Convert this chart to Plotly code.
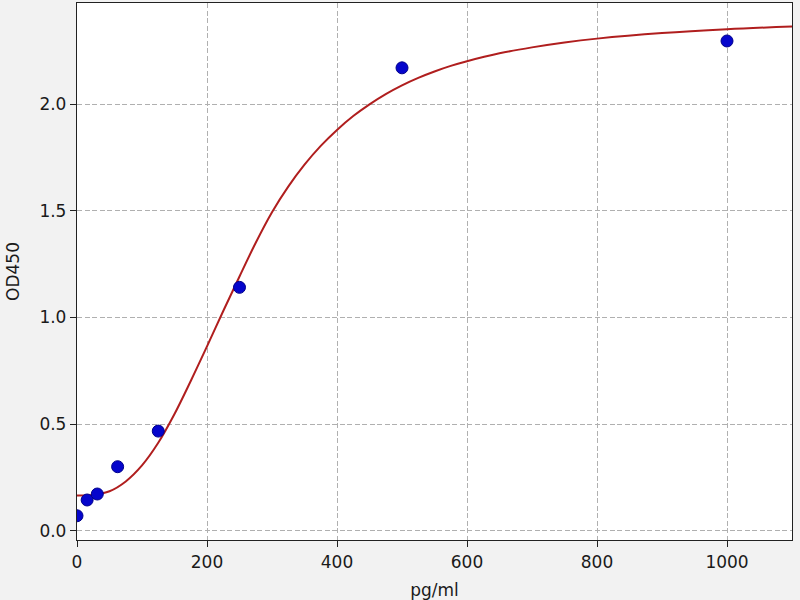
import plotly.graph_objects as go

# Measured standards
conc = [0, 15.6, 31.25, 62.5, 125, 250, 500, 1000]
od = [0.070, 0.144, 0.172, 0.300, 0.467, 1.141, 2.170, 2.296]

# Fitted curve
curve_x = [0, 25, 50, 75, 100, 125, 150, 175, 200, 225, 250, 275, 300, 325, 350,
           375, 400, 425, 450, 475, 500, 525, 550, 575, 600, 650, 700, 750, 800,
           900, 1000, 1100]
curve_y = [0.165, 0.168, 0.185, 0.231, 0.306, 0.412, 0.547, 0.702, 0.864, 1.030,
           1.192, 1.350, 1.493, 1.613, 1.716, 1.804, 1.879, 1.944, 1.999, 2.047,
           2.088, 2.123, 2.153, 2.179, 2.201, 2.238, 2.266, 2.289, 2.307,
           2.333, 2.351, 2.364]

x_ticks = [0, 200, 400, 600, 800, 1000]
y_ticks = [0.0, 0.5, 1.0, 1.5, 2.0]
y_tick_text = ["0.0", "0.5", "1.0", "1.5", "2.0"]

FONT = "DejaVu Sans"

fig = go.Figure()
fig.add_trace(go.Scatter(
    x=curve_x, y=curve_y, mode="lines",
    line=dict(color="#b01e1e", width=2, shape="spline", smoothing=1.0),
    showlegend=False, hoverinfo="skip",
))
fig.add_trace(go.Scatter(
    x=conc, y=od, mode="markers",
    marker=dict(color="#0505cc", size=12, line=dict(color="#00008b", width=1)),
    showlegend=False,
))

axis_common = dict(
    showline=True, linecolor="#222222", linewidth=1.3, mirror=True,
    ticks="outside", ticklen=6, tickwidth=1.2, tickcolor="#222222",
    showgrid=True, gridcolor="#b0b0b0", gridwidth=1, griddash="5px,2.5px",
    zeroline=False, automargin=False,
    tickfont=dict(family=FONT, size=17, color="#1a1a1a"),
)

fig.update_layout(
    width=800, height=600,
    margin=dict(l=77, r=8, t=3, b=60),
    paper_bgcolor="#f2f2f2",
    plot_bgcolor="#ffffff",
    font=dict(family=FONT, size=17, color="#1a1a1a"),
    xaxis=dict(range=[0, 1100], tickvals=x_ticks,
               title=dict(text="pg/ml", font=dict(family=FONT, size=17), standoff=13),
               **axis_common),
    yaxis=dict(range=[-0.0436, 2.474], tickvals=y_ticks, ticktext=y_tick_text,
               title=dict(text="OD450", font=dict(family=FONT, size=17), standoff=15),
               **axis_common),
)

fig.write_html("out.html",
               config={"displayModeBar": False},
               post_script="document.body.style.margin='0';document.body.style.padding='0';")
